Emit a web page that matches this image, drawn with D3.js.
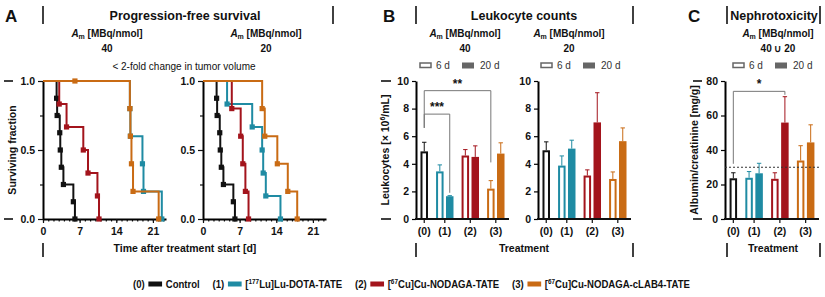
<!DOCTYPE html>
<html>
<head>
<meta charset="utf-8">
<script src="https://cdn.jsdelivr.net/npm/d3@7"></script>
<style>
  body { margin: 0; background: #fff; }
  svg { font-family: "Liberation Sans", Arial, sans-serif; }
</style>
</head>
<body>
<svg width="825" height="297"></svg>
<script>
// ---- data ----
var groups = ["(0)", "(1)", "(2)", "(3)"];
var colors = ["#111111", "#1f8ba3", "#a3141c", "#c96b14"];
var legendNames = ["Control", "[^177Lu]Lu-DOTA-TATE", "[^67Cu]Cu-NODAGA-TATE", "[^67Cu]Cu-NODAGA-cLAB4-TATE"];

// Kaplan-Meier steps [day, surviving fraction]
var survControl = [[0,1],[2.6,0.875],[2.7,0.75],[3.2,0.625],[3.3,0.5],[3.5,0.375],[3.9,0.25],[5.8,0.125],[6.1,0]];
var surv40Lu  = [[0,1],[16.6,0.8],[16.7,0.6],[19.0,0.4],[19.2,0.2],[22.7,0]];
var surv40Cu  = [[0,1],[3.1,0.833],[4.5,0.667],[7.7,0.5],[8.6,0.333],[10.4,0.167],[10.7,0]];
var surv40Lab = [[0,1],[16.6,0.8],[16.7,0.6],[16.9,0.4],[17.2,0.2],[22.1,0]];
var censor40Lab = [[6.1,1]];
var surv20Lu  = [[0,1],[4.6,0.833],[9.4,0.667],[11.3,0.5],[11.5,0.333],[12.0,0.167],[14.8,0]];
var surv20Cu  = [[0,1],[5.5,0.8],[7.2,0.6],[7.6,0.4],[8.1,0.2],[8.7,0]];
var surv20Lab = [[0,1],[11.3,0.8],[11.8,0.6],[14.2,0.4],[16.2,0.2],[18.0,0]];

// leukocytes [x10^6/mL], mean and error (upper)
var leuk40_6d  = [4.9, 3.45, 4.6, 2.2];
var leuk40_6dErr = [0.66, 0.47, 0.43, 0.58];
var leuk40_20d = [null, 1.65, 4.5, 4.74];
var leuk40_20dErr = [null, 0.04, 0.8, 0.78];
var leuk20_6d  = [4.98, 3.87, 3.15, 2.9];
var leuk20_6dErr = [0.61, 0.7, 0.41, 0.51];
var leuk20_20d = [null, 5.1, 7.0, 5.64];
var leuk20_20dErr = [null, 0.61, 2.15, 0.96];

// albumin/creatinine [mg/g]
var nephro_6d  = [23.6, 23.9, 23.3, 33.9];
var nephro_6dErr = [3.2, 3.6, 3.5, 8.6];
var nephro_20d = [null, 26.5, 55.9, 44.4];
var nephro_20dErr = [null, 5.8, 15.0, 10.2];

var survTicks = [0, 7, 14, 21];
var leukTicks = [0, 2, 4, 6, 8, 10];
var nephroTicks = [0, 20, 40, 60, 80];

var svg = d3.select("svg");
var yTop = 81, yBot = 219;

function txt(x, y, s, size, weight, anchor) {
    return svg.append("text").attr("x", x).attr("y", y)
        .attr("font-size", size).attr("font-weight", weight || "bold")
        .attr("text-anchor", anchor || "middle").attr("fill", "#111").text(s);
}
function vbar(x, y1, y2) {
    svg.append("line").attr("x1", x).attr("x2", x).attr("y1", y1).attr("y2", y2)
        .attr("stroke", "#111").attr("stroke-width", 1.6);
}
function hdash(x1, x2, y) {
    svg.append("line").attr("x1", x1).attr("x2", x2).attr("y1", y).attr("y2", y)
        .attr("stroke", "#111").attr("stroke-width", 1.6);
}
function amLabel(x, y, val) {
    var t = svg.append("text").attr("x", x).attr("y", y).attr("font-size", 10)
        .attr("font-weight", "bold").attr("text-anchor", "middle").attr("fill", "#111");
    t.append("tspan").attr("font-style", "italic").text("A");
    t.append("tspan").attr("font-size", 7).attr("dy", 2).text("m");
    t.append("tspan").attr("dy", -2).text(" [MBq/nmol]");
    txt(x, y + 15, val, 10);
}
function ytitle(x, yc, build) {
    var t = svg.append("text").attr("transform", "translate(" + x + "," + yc + ") rotate(-90)")
        .attr("font-size", 10.5).attr("font-weight", "bold").attr("text-anchor", "middle").attr("fill", "#111");
    build(t);
}
function boxLegend(x, y) {
    svg.append("rect").attr("x", x).attr("y", y - 3).attr("width", 11).attr("height", 4.5)
        .attr("fill", "#fff").attr("stroke", "#666").attr("stroke-width", 1.5);
    txt(x + 16, y + 3, "6 d", 10, "normal", "start").attr("fill", "#333");
    svg.append("rect").attr("x", x + 42).attr("y", y - 3.5).attr("width", 12).attr("height", 6)
        .attr("fill", "#666");
    txt(x + 60, y + 3, "20 d", 10, "normal", "start").attr("fill", "#333");
}

// ---- headers ----
txt(5, 22, "A", 17, "bold", "start");
vbar(43, 6, 24); vbar(333, 6, 24);
txt(185, 20, "Progression-free survival", 12.5);
txt(383, 22, "B", 17, "bold", "start");
vbar(416, 6, 24); vbar(633, 6, 24);
txt(524, 20, "Leukocyte counts", 12.5);
txt(688, 22, "C", 17, "bold", "start");
vbar(727, 6, 24); vbar(820, 6, 24);
txt(774, 20, "Nephrotoxicity", 12.5);

amLabel(107, 37, "40");
amLabel(266, 37, "20");
txt(184, 70, "< 2-fold change in tumor volume", 10, "normal");
amLabel(465, 37, "40");
amLabel(569, 37, "20");
amLabel(778, 37, "40 \u222A 20");
boxLegend(420, 66);
boxLegend(541, 66);
boxLegend(733, 66);

// ---- panel A: survival ----
var yS = d3.scaleLinear().domain([0, 1]).range([yBot, yTop]);

function survPanel(x0, series) {
    var x = d3.scaleLinear().domain([0, 23.5]).range([x0, x0 + 123]);
    var g = svg.append("g");
    g.append("g").attr("transform", "translate(0," + yBot + ")")
        .call(d3.axisBottom(x).tickValues(d3.range(0, 24)).tickSize(2.5).tickFormat(""))
        .call(a => a.select(".domain").remove());
    var ax = g.append("g").attr("transform", "translate(0," + yBot + ")")
        .call(d3.axisBottom(x).tickValues(survTicks).tickSize(4).tickSizeOuter(0));
    var ay = g.append("g").attr("transform", "translate(" + x0 + ",0)")
        .call(d3.axisLeft(yS).tickValues([0, 0.5, 1]).tickSize(5).tickSizeOuter(0).tickFormat(d3.format(".1f")));
    g.append("g").attr("transform", "translate(" + x0 + ",0)")
        .call(d3.axisLeft(yS).tickValues([0.25, 0.75]).tickSize(3).tickFormat(""))
        .call(a => a.select(".domain").remove());
    [ax, ay].forEach(a => {
        a.selectAll("text").attr("font-size", 10.5).attr("font-weight", "bold").attr("fill", "#111");
        a.select(".domain").attr("stroke-width", 2);
    });
    g.selectAll(".tick line").attr("stroke", "#111").attr("stroke-width", 1.2);
    ax.selectAll("text").attr("dy", "0.9em");

    var line = d3.line().x(d => x(d[0])).y(d => yS(d[1])).curve(d3.curveStepAfter);
    series.forEach(s => {
        g.append("path").datum(s.data).attr("d", line).attr("fill", "none")
            .attr("stroke", s.color).attr("stroke-width", 2);
        var pts = s.data.slice(1).concat(s.censor || []);
        g.selectAll(null).data(pts).enter().append("rect")
            .attr("x", d => x(d[0]) - 2.6).attr("y", d => yS(d[1]) - 2.6)
            .attr("width", 5.2).attr("height", 5.2).attr("fill", s.color);
    });
}
survPanel(43, [
    { data: survControl, color: colors[0] },
    { data: surv40Lu, color: colors[1] },
    { data: surv40Cu, color: colors[2] },
    { data: surv40Lab, color: colors[3], censor: censor40Lab }
]);
survPanel(203, [
    { data: survControl, color: colors[0] },
    { data: surv20Lu, color: colors[1] },
    { data: surv20Cu, color: colors[2] },
    { data: surv20Lab, color: colors[3] }
]);
ytitle(16, 150, t => t.text("Surviving fraction"));
hdash(4, 13, yTop); hdash(4, 13, yBot);
txt(185, 252, "Time after treatment start [d]", 10.5);
vbar(43, 243, 257);

// ---- bar panels ----
var pad = 3.3, slot = 10, gap = 5.7, barW = 7.5;
var totalUnits = 2 * pad + 7 * slot + 3 * gap;

function barPanel(x0, len, yMax, ticks, v6, e6, v20, e20) {
    var x = d3.scaleLinear().domain([0, totalUnits]).range([x0, x0 + len]);
    var y = d3.scaleLinear().domain([0, yMax]).range([yBot, yTop]);
    var g = svg.append("g");
    var bars = [];
    groups.forEach((grp, i) => {
        var before = i === 0 ? 0 : 1 + 2 * (i - 1);
        var u = pad + before * slot + i * gap + slot / 2;
        bars.push({ u: u, v: v6[i], e: e6[i], c: colors[i], open: true });
        if (v20[i] != null) bars.push({ u: u + slot, v: v20[i], e: e20[i], c: colors[i], open: false });
        var cu = v20[i] != null ? u + slot / 2 : u;
        g.append("line").attr("x1", x(cu)).attr("x2", x(cu)).attr("y1", yBot).attr("y2", yBot + 4)
            .attr("stroke", "#111").attr("stroke-width", 1.2);
        g.append("text").attr("x", x(cu)).attr("y", yBot + 16).attr("text-anchor", "middle")
            .attr("font-size", 10.5).attr("font-weight", "bold").attr("fill", "#111").text(grp);
    });
    // error bars
    bars.forEach(b => {
        var cx = x(b.u), top = y(b.v + b.e);
        g.append("line").attr("x1", cx).attr("x2", cx).attr("y1", y(b.v)).attr("y2", top)
            .attr("stroke", b.c).attr("stroke-width", 1);
        g.append("line").attr("x1", cx - 2.2).attr("x2", cx + 2.2).attr("y1", top).attr("y2", top)
            .attr("stroke", b.c).attr("stroke-width", 1);
    });
    bars.forEach(b => {
        var cx = x(b.u);
        if (b.open) {
            g.append("rect").attr("x", cx - barW / 2 + 1).attr("y", y(b.v) + 1)
                .attr("width", barW - 2).attr("height", yBot - y(b.v) - 1)
                .attr("fill", "#fff").attr("stroke", b.c).attr("stroke-width", 2);
        } else {
            g.append("rect").attr("x", cx - barW / 2).attr("y", y(b.v))
                .attr("width", barW).attr("height", yBot - y(b.v)).attr("fill", b.c);
        }
    });
    var ay = g.append("g").attr("transform", "translate(" + x0 + ",0)")
        .call(d3.axisLeft(y).tickValues(ticks).tickSize(4).tickSizeOuter(0));
    ay.selectAll("text").attr("font-size", 10.5).attr("font-weight", "bold").attr("fill", "#111");
    ay.select(".domain").attr("stroke-width", 2);
    ay.selectAll(".tick line").attr("stroke-width", 1.2);
    g.append("line").attr("x1", x0 - 1).attr("x2", x0 + len).attr("y1", yBot).attr("y2", yBot)
        .attr("stroke", "#111").attr("stroke-width", 2);
    return { x: x, y: y, bars: bars };
}

function bracket(x1, x2, yb, d1, d2, label) {
    svg.append("path")
        .attr("d", "M" + x1 + "," + d1 + "V" + yb + "H" + x2 + "V" + d2)
        .attr("fill", "none").attr("stroke", "#777").attr("stroke-width", 1);
    txt((x1 + x2) / 2, yb - 3, label, 12);
}

var pB1 = barPanel(416, 93, 10, leukTicks, leuk40_6d, leuk40_6dErr, leuk40_20d, leuk40_20dErr);
var pB2 = barPanel(538, 93, 10, leukTicks, leuk20_6d, leuk20_6dErr, leuk20_20d, leuk20_20dErr);
var pC  = barPanel(725, 94, 80, nephroTicks, nephro_6d, nephro_6dErr, nephro_20d, nephro_20dErr);

// significance brackets
var b = pB1.bars;
bracket(pB1.x(b[0].u), pB1.x(b[5].u), pB1.y(9.3), pB1.y(6.6), pB1.y(4.1), "**");
bracket(pB1.x(b[0].u), pB1.x(b[2].u), pB1.y(7.6), pB1.y(6.6), pB1.y(1.9), "***");
var c = pC.bars;
bracket(pC.x(c[0].u), pC.x(c[4].u), pC.y(74), pC.y(32), pC.y(72), "*");

// dotted reference line (nephrotoxicity threshold)
svg.append("line").attr("x1", 725).attr("x2", 819).attr("y1", pC.y(30)).attr("y2", pC.y(30))
    .attr("stroke", "#333").attr("stroke-width", 1).attr("stroke-dasharray", "2,2");

ytitle(389, 150, t => {
    t.append("tspan").text("Leukocytes  [\u00D7 10");
    t.append("tspan").attr("font-size", 7).attr("dy", -4).text("6");
    t.append("tspan").attr("dy", 4).text("/mL]");
});
hdash(381, 391, yTop); hdash(381, 391, yBot);
ytitle(698, 150, t => t.text("Albumin/creatinine [mg/g]"));
hdash(693, 702, yTop); hdash(693, 702, yBot);

txt(524, 252, "Treatment", 10.5);
txt(773, 252, "Treatment", 10.5);
vbar(416, 243, 257); vbar(633, 243, 257); vbar(727, 243, 257); vbar(820, 243, 257);

// ---- bottom legend (condensed to fit 133..690) ----
var leg = svg.append("g");
var lx = 0, ly = 288;
groups.forEach((grp, i) => {
    var t = leg.append("text").attr("x", lx).attr("y", ly).attr("font-size", 10.5)
        .attr("font-weight", "bold").attr("fill", "#111").text(grp);
    lx += t.node().getComputedTextLength() + 4;
    leg.append("rect").attr("x", lx).attr("y", ly - 6.5).attr("width", 15).attr("height", 5).attr("fill", colors[i]);
    lx += 19;
    var n = leg.append("text").attr("x", lx).attr("y", ly).attr("font-size", 10.5)
        .attr("font-weight", "bold").attr("fill", "#111");
    var parts = legendNames[i].split("^");
    n.append("tspan").text(parts[0]);
    if (parts.length > 1) {
        var m = parts[1].match(/^(\d+)(.*)$/);
        n.append("tspan").attr("font-size", 7).attr("dy", -4).text(m[1]);
        n.append("tspan").attr("dy", 4).text(m[2]);
    }
    lx += n.node().getComputedTextLength() + (i < 3 ? 14 : 0);
});
var k = (690 - 133) / lx;
leg.attr("transform", "translate(133,0) scale(" + k + ",1)");
</script>
</body>
</html>
